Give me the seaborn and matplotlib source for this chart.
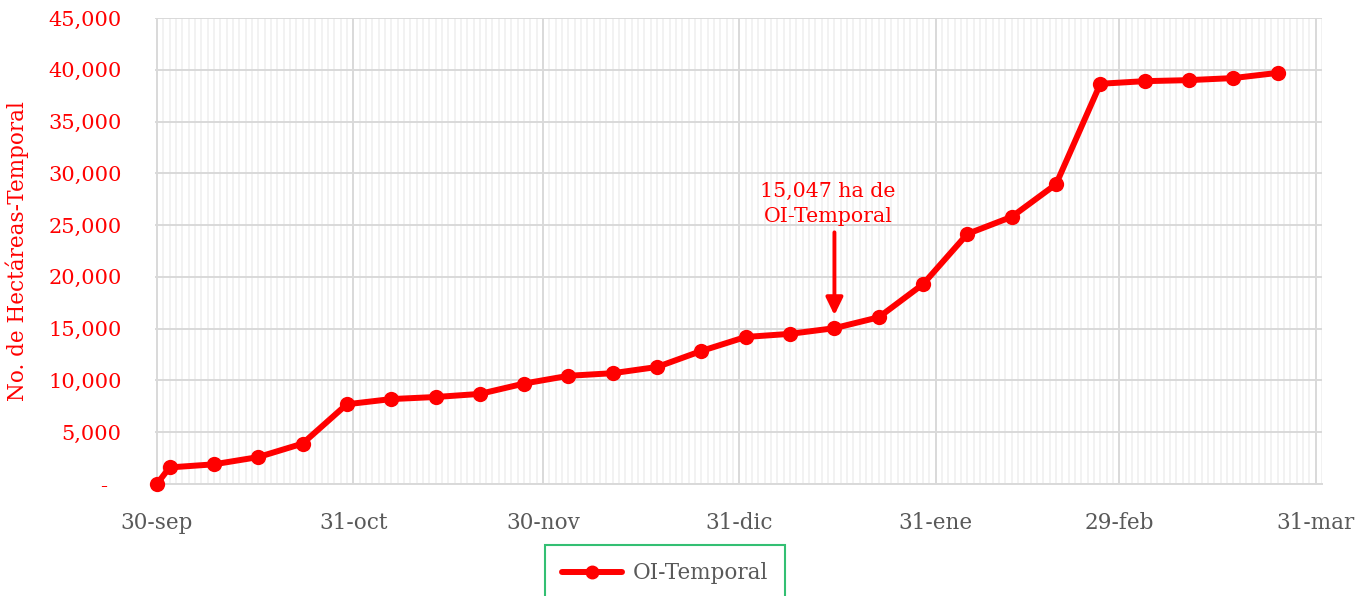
import numpy as np
import pandas as pd
import matplotlib
matplotlib.use("Agg")
import matplotlib.pyplot as plt
import matplotlib.dates as mdates
import matplotlib.ticker as mticker
import seaborn as sns

# ── datos ────────────────────────────────────────────────────────────────────
fechas = ["2023-09-30", "2023-10-02", "2023-10-09", "2023-10-16", "2023-10-23",
          "2023-10-30", "2023-11-06", "2023-11-13", "2023-11-20", "2023-11-27",
          "2023-12-04", "2023-12-11", "2023-12-18", "2023-12-25", "2024-01-01",
          "2024-01-08", "2024-01-15", "2024-01-22", "2024-01-29", "2024-02-05",
          "2024-02-12", "2024-02-19", "2024-02-26", "2024-03-04", "2024-03-11",
          "2024-03-18", "2024-03-25"]
hectareas = [0, 1600, 1900, 2600, 3900,
             7700, 8200, 8400, 8700, 9700,
             10450, 10700, 11300, 12850, 14200,
             14500, 15047, 16100, 19300, 24150,
             25800, 28950, 38650, 38900, 39000,
             39200, 39700]

tick_fechas = ["2023-09-30", "2023-10-31", "2023-11-30", "2023-12-31",
               "2024-01-31", "2024-02-29", "2024-03-31"]
tick_labels = ["30-sep", "31-oct", "30-nov", "31-dic", "31-ene", "29-feb", "31-mar"]

nota_fecha = "2024-01-15"
nota_texto = "15,047 ha de\nOI-Temporal"

RED = "#ff0000"
GRAY_TXT = "#595959"
GRID = "#d9d9d9"
GRID_MINOR = "#f0f0f0"

df = pd.DataFrame({"fecha": pd.to_datetime(fechas), "ha": hectareas,
                   "serie": "OI-Temporal"})

sns.set_style("white")
plt.rcParams["font.family"] = ["DejaVu Serif"]

fig = plt.figure(figsize=(13.63, 5.96), dpi=100)
ax = fig.add_axes([155 / 1363, 1 - 484 / 596, (1322 - 155) / 1363, (484 - 18) / 596])

sns.lineplot(data=df, x="fecha", y="ha", hue="serie", palette=[RED],
             marker="o", markersize=11, markeredgewidth=0, linewidth=4.3,
             ax=ax, legend=False, zorder=5, clip_on=False)

# ejes
ax.set_xlim(pd.Timestamp("2023-09-30") - pd.Timedelta(days=0.3),
            pd.Timestamp("2024-04-01"))
ax.set_ylim(0, 45000)

ax.xaxis.set_major_locator(mticker.FixedLocator(mdates.date2num(pd.to_datetime(tick_fechas))))
ax.xaxis.set_major_formatter(mticker.FixedFormatter(tick_labels))
ax.xaxis.set_minor_locator(mdates.DayLocator())
ax.yaxis.set_major_locator(mticker.MultipleLocator(5000))
ax.yaxis.set_major_formatter(mticker.FuncFormatter(
    lambda v, _: "-  " if v == 0 else f"{v:,.0f}"))

ax.grid(which="minor", axis="x", color=GRID_MINOR, linewidth=1.2)
ax.grid(which="major", axis="x", color=GRID, linewidth=1.4)
ax.grid(which="major", axis="y", color=GRID, linewidth=1.4)
ax.set_axisbelow(True)

for side in ["top", "right", "left"]:
    ax.spines[side].set_visible(False)
ax.spines["bottom"].set_color(GRID)
ax.spines["bottom"].set_linewidth(1.4)

ax.tick_params(axis="x", which="major", length=7, width=1.4, color=GRID,
               pad=13, labelsize=15.5, labelcolor=GRAY_TXT)
ax.tick_params(axis="x", which="minor", length=0)
ax.tick_params(axis="y", length=0, pad=24, labelsize=15, labelcolor=RED)

ax.set_xlabel("")
ax.set_ylabel("No. de Hectáreas-Temporal", color=RED, fontsize=15.5)
ax.yaxis.set_label_coords(-(155 - 29) / 1167, 0.5)

# anotación
xn = pd.Timestamp(nota_fecha)
ax.annotate("", xy=(xn, 16300), xytext=(xn, 24300),
            arrowprops=dict(arrowstyle="-|>,head_length=0.35,head_width=0.17",
                            color=RED, lw=2.8, mutation_scale=30,
                            shrinkA=0, shrinkB=0))
ax.text(xn - pd.Timedelta(days=1), 24900, nota_texto, ha="center", va="bottom",
        color=RED, fontsize=14.8, linespacing=1.4)

# leyenda
h = plt.Line2D([], [], color=RED, lw=4.3, marker="o", markersize=9)
leg = fig.legend([h], ["OI-Temporal"], loc="upper center",
                 bbox_to_anchor=(665 / 1363, 1 - 545 / 596),
                 frameon=True, fancybox=False, fontsize=15.5,
                 handlelength=2.8, handletextpad=0.5, borderpad=0.8,
                 borderaxespad=0)
leg.get_frame().set_edgecolor("#00b050")
leg.get_frame().set_linewidth(1.5)
for t in leg.get_texts():
    t.set_color(GRAY_TXT)

fig.savefig("out.png", dpi=100)
